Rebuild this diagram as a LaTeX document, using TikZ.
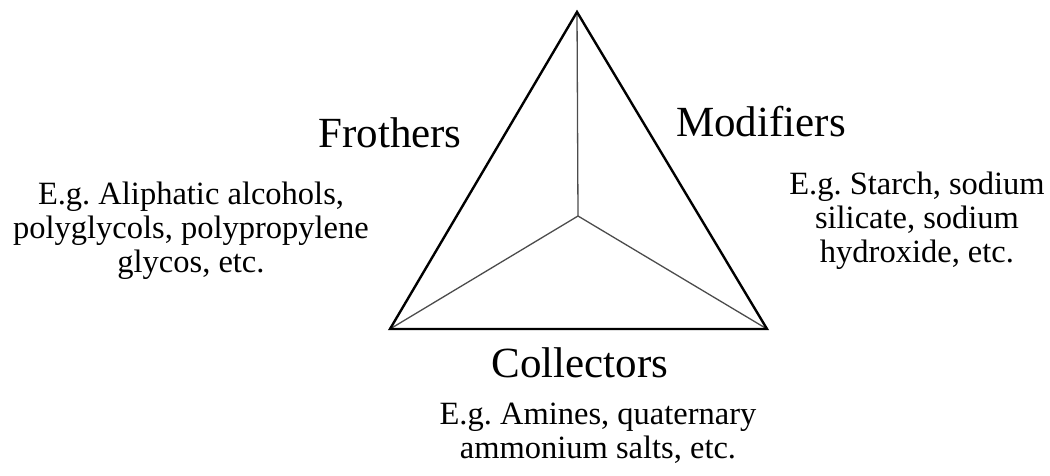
\documentclass[tikz,border=0pt]{standalone}
\usepackage{fontspec}
\setmainfont{Liberation Serif}
\frenchspacing
\usetikzlibrary{positioning,calc}

\begin{document}
\begin{tikzpicture}[x=1pt,y=-1pt,
  heading/.style={font=\fontsize{43}{48}\selectfont, inner sep=0pt, anchor=base},
  example/.style={font=\fontsize{32.5}{34}\selectfont, align=center, inner sep=0pt, anchor=base},
  edge/.style={line width=2.4pt, line join=miter},
  spoke/.style={line width=1.3pt, black!70}]

  \useasboundingbox (0,0) rectangle (1050,476);

  % corners of the triangle
  \coordinate (apex)  at (577,12);
  \coordinate (left)  at (390,329);
  \coordinate (right) at (767,329);
  \coordinate (mid)   at (578,216);

  \foreach \c in {apex,left,right}{
    \draw[spoke] (mid) -- (\c);
  }
  \draw[edge] (apex) -- (left) -- (right) -- cycle;

  \node[heading] (frothers)   at (390,148) {Frothers};
  \node[heading] (modifiers)  at (761,137) {Modifiers};
  \node[heading] (collectors) at (580,377) {Collectors};

  % base anchor sits on the last line
  \node[example] (frothex)  at (191,272) {E.g. Aliphatic alcohols,\\ polyglycols, polypropylene\\ glycos, etc.};
  \node[example] (modex)    at (917,262) {E.g. Starch, sodium\\ silicate, sodium\\ hydroxide, etc.};
  \node[example] (collex)   at (598,458) {E.g. Amines, quaternary\\ ammonium salts, etc.};

\end{tikzpicture}
\end{document}
